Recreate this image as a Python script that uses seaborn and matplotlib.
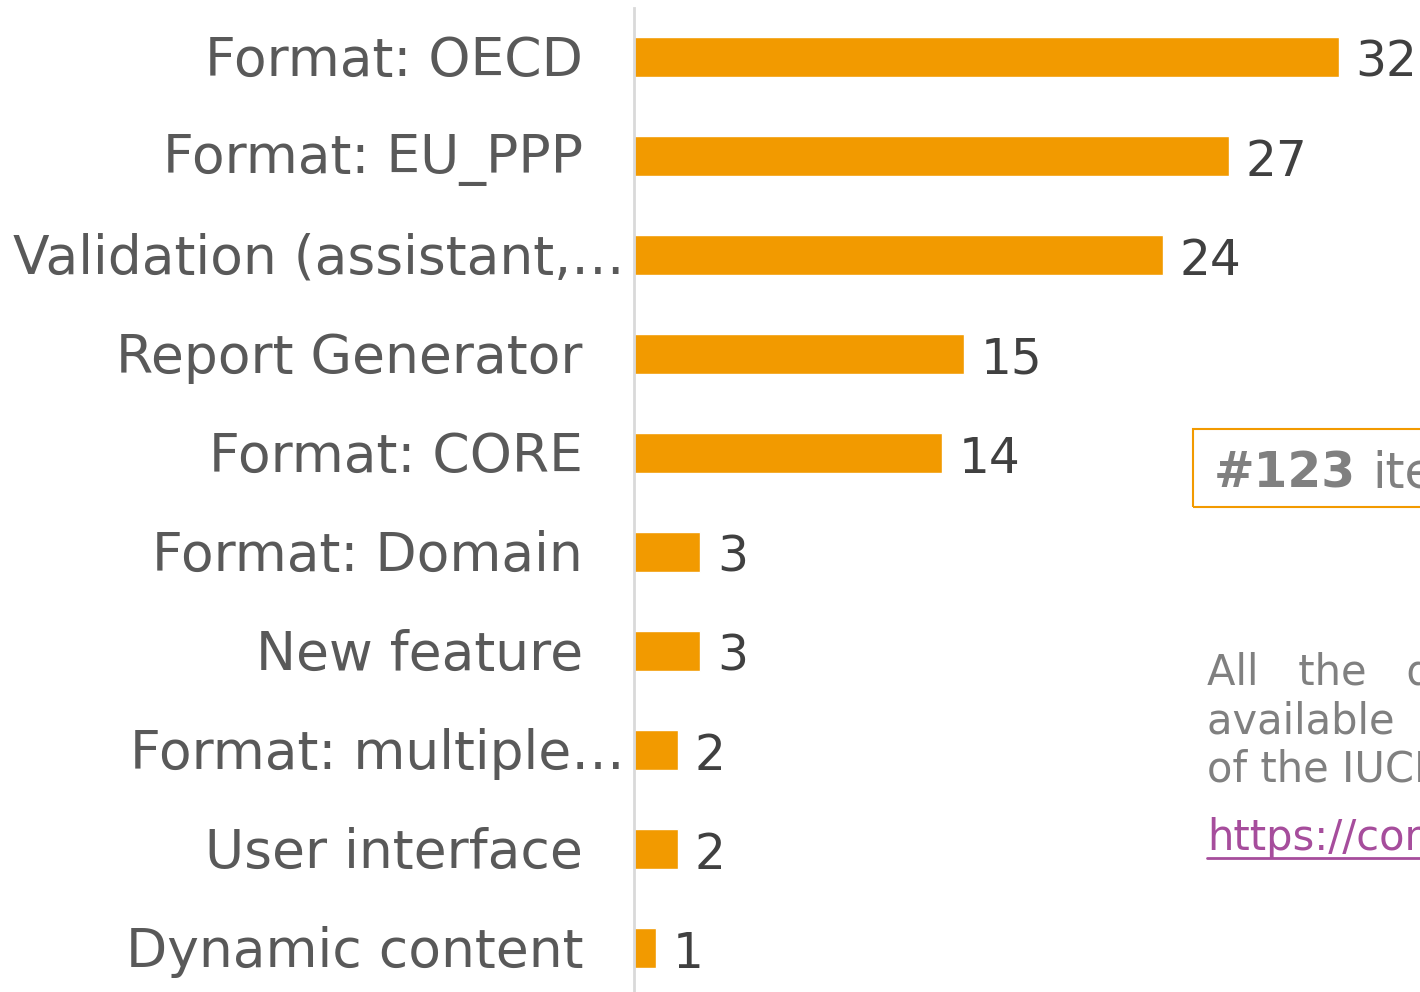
import matplotlib
matplotlib.use('Agg')
import matplotlib.pyplot as plt
import matplotlib.transforms as mtransforms
import seaborn as sns
import pandas as pd

# 카테고리별 건수
categories = ['Format: OECD', 'Format: EU_PPP', 'Validation (assistant,…',
              'Report Generator', 'Format: CORE', 'Format: Domain',
              'New feature', 'Format: multiple…', 'User interface',
              'Dynamic content']
counts = [32, 27, 24, 15, 14, 3, 3, 2, 2, 1]

df = pd.DataFrame({'category': categories, 'count': counts})

sns.set_theme(style='white')
plt.rcParams['font.family'] = ['DejaVu Sans']

fig = plt.figure(figsize=(14.2, 9.92), dpi=100)
ax = fig.add_axes([634 / 1420, 1 - 997.5 / 992, 786 / 1420, 990 / 992])

sns.barplot(data=df, x='count', y='category', color='#F29A00', width=0.4,
            saturation=1, ax=ax)
bars = ax.containers[0]
labels = ax.bar_label(bars, padding=12, fontsize=35, color='#404040')
for t in labels:
    t.xyann = (12, -4)   # 값 라벨 살짝 아래로

ax.set_xlim(0, 786 / 22.03)
ax.set_ylim(9.5, -0.5)
ax.set_xlabel('')
ax.set_ylabel('')
ax.set_xticks([])
ax.set_yticks(range(len(categories)))
ax.set_yticklabels([])
ax.tick_params(axis='y', length=0)
for s in ['top', 'right', 'bottom']:
    ax.spines[s].set_visible(False)
ax.spines['left'].set_color('#D9D9D9')
ax.spines['left'].set_linewidth(2)

# 카테고리 이름 (잘린 이름은 축에 더 가깝게)
for i, name in enumerate(categories):
    off = -9 if name.endswith('…') else -51
    tr = mtransforms.offset_copy(ax.get_yaxis_transform(), fig=fig, x=off, y=-4, units='dots')
    ax.text(0, i, name, transform=tr, ha='right', va='center', fontsize=38.5,
            color='#595959')

# 오른쪽 설명 텍스트
box = plt.Rectangle((1193 / 1420, 1 - 507 / 992), 300 / 1420, 78 / 992,
                    transform=fig.transFigure, fill=False, edgecolor='#F29A00',
                    linewidth=1.5)
fig.patches.append(box)
fig.text(1214 / 1420, 1 - 487 / 992, '#123', fontsize=35, fontweight='bold',
         color='#808080', va='baseline')
fig.text(1372 / 1420, 1 - 487 / 992, 'items', fontsize=35,
         color='#808080', va='baseline')

fig.text(1207 / 1420, 1 - 782 / 992, 'All   the   details\navailable  on  the\nof the IUCLID',
         fontsize=30, color='#808080', va='baseline', linespacing=1.2)
fig.text(1207 / 1420, 1 - 850 / 992, 'https://community.iuclid.eu',
         fontsize=30, color='#A64D9C', va='baseline')
fig.add_artist(plt.Line2D([1207 / 1420, 1], [1 - 858 / 992] * 2,
                          transform=fig.transFigure, color='#A64D9C', linewidth=2))

fig.savefig('out.png', dpi=100)
